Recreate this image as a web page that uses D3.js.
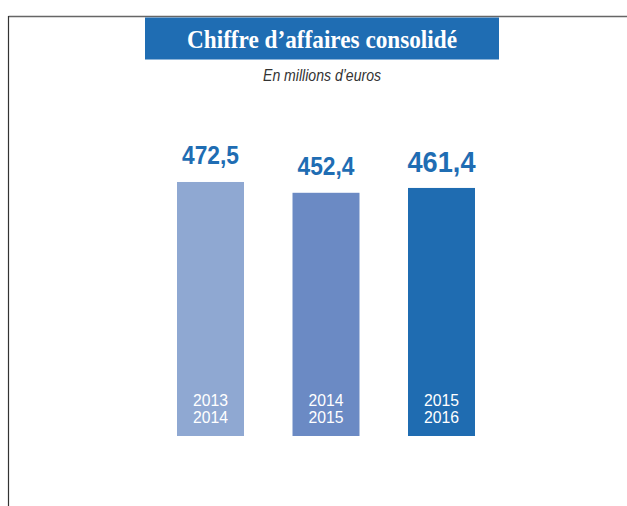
<!DOCTYPE html>
<html>
<head>
<meta charset="utf-8">
<script src="https://cdn.jsdelivr.net/npm/d3@7"></script>
<style>
  html, body { margin: 0; padding: 0; background: #fff; }
  svg { display: block; }
</style>
</head>
<body>
<svg id="chart" width="627" height="506"></svg>
<script>
const categories = ['2013/2014', '2014/2015', '2015/2016'];
const values = [472.5, 452.4, 461.4];
const valueLabels = ['472,5', '452,4', '461,4'];
const title = 'Chiffre d\u2019affaires consolidé';
const subtitle = 'En millions d\u2019euros';

const colors = ['#8fa8d2', '#6b8ac4', '#1f6cb1'];
const sans = '"Liberation Sans", Arial, sans-serif';

const width = 627,
  height = 506;

const svg = d3.select('#chart');

// frame
svg.append('line')
  .attr('x1', 8.5).attr('x2', width)
  .attr('y1', 16.5).attr('y2', 16.5)
  .attr('stroke', '#666').attr('stroke-width', 1.5);
svg.append('line')
  .attr('x1', 8.5).attr('x2', 8.5)
  .attr('y1', 16).attr('y2', height)
  .attr('stroke', '#333').attr('stroke-width', 1.2);

// title box
svg.append('rect')
  .attr('x', 145).attr('y', 17.5)
  .attr('width', 354).attr('height', 42)
  .attr('fill', '#1f6db3');
svg.append('text')
  .attr('x', 322).attr('y', 48)
  .attr('text-anchor', 'middle')
  .attr('font-family', '"Liberation Serif", "Times New Roman", serif')
  .attr('font-weight', 'bold')
  .attr('font-size', 25)
  .attr('fill', '#fff')
  .attr('textLength', 270)
  .attr('lengthAdjust', 'spacingAndGlyphs')
  .text(title);

svg.append('text')
  .attr('x', 322).attr('y', 80.5)
  .attr('text-anchor', 'middle')
  .attr('font-family', sans)
  .attr('font-style', 'italic')
  .attr('font-size', 16)
  .attr('fill', '#333')
  .attr('textLength', 118)
  .attr('lengthAdjust', 'spacingAndGlyphs')
  .text(subtitle);

const x = d3.scaleBand()
  .domain(categories)
  .range([177, 475])
  .paddingInner(0.42)
  .paddingOuter(0);

const y = d3.scaleLinear()
  .domain([0, 500])
  .range([436, 167.2]);

const bars = svg.append('g')
  .selectAll('g')
  .data(categories.map((c, i) => ({ c, v: values[i], label: valueLabels[i], i })))
  .join('g');

bars.append('rect')
  .attr('x', d => x(d.c))
  .attr('y', d => y(d.v))
  .attr('width', x.bandwidth())
  .attr('height', d => y(0) - y(d.v))
  .attr('fill', d => colors[d.i]);

// last year is highlighted with a bigger label
bars.append('text')
  .attr('x', d => x(d.c) + x.bandwidth() / 2)
  .attr('y', d => y(d.v) - (d.i === 2 ? 16 : 18))
  .attr('text-anchor', 'middle')
  .attr('font-family', sans)
  .attr('font-weight', 'bold')
  .attr('font-size', d => (d.i === 2 ? 30 : 25))
  .attr('fill', '#1f6db3')
  .attr('textLength', d => (d.i === 2 ? 68 : 57))
  .attr('lengthAdjust', 'spacingAndGlyphs')
  .text(d => d.label);

bars.each(function (d) {
  const lines = d.c.split('/');
  const g = d3.select(this);
  lines.forEach((t, k) => {
    g.append('text')
      .attr('x', x(d.c) + x.bandwidth() / 2)
      .attr('y', y(0) - 30 + k * 17)
      .attr('text-anchor', 'middle')
      .attr('font-family', sans)
      .attr('font-size', 16.5)
      .attr('fill', '#fff')
      .attr('textLength', 35)
      .attr('lengthAdjust', 'spacingAndGlyphs')
      .text(t);
  });
});
</script>
</body>
</html>
